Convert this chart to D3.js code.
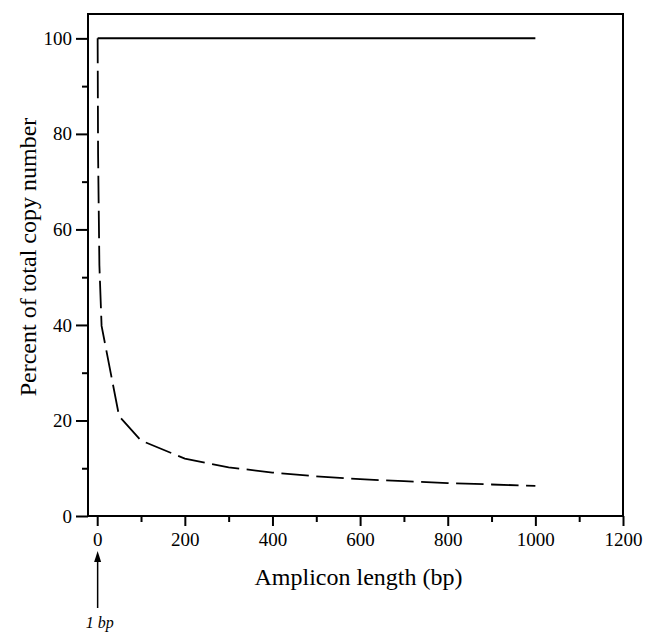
<!DOCTYPE html>
<html>
<head>
<meta charset="utf-8">
<script src="https://cdn.jsdelivr.net/npm/d3@7"></script>
<style>
  html, body { margin: 0; padding: 0; background: #fff; }
  svg { display: block; }
  text { font-family: "Liberation Serif", "Times New Roman", serif; fill: #000; }
</style>
</head>
<body>
<svg id="chart" width="655" height="634"></svg>
<script>
// ---- data ----
const ampliconLength = [1, 2, 5, 10, 50, 100, 200, 300, 400, 500, 600, 700, 800, 900, 1000];
const percentDegraded = [100, 75.8, 52.5, 39.8, 20.9, 15.8, 12.0, 10.2, 9.1, 8.3, 7.7, 7.3, 6.9, 6.6, 6.3];
const solidLength = [1, 1000];
const solidPercent = [100, 100];
const xMajorTicks = [0, 200, 400, 600, 800, 1000, 1200];
const xMinorTicks = [100, 300, 500, 700, 900, 1100];
const yMajorTicks = [0, 20, 40, 60, 80, 100];
const yMinorTicks = [10, 30, 50, 70, 90];
const xTitle = "Amplicon length (bp)";
const yTitle = "Percent of total copy number";
const annotationText = "1 bp";
const annotationAt = 1;

// ---- layout ----
const svg = d3.select("#chart");
const mLeft = 88, mRight = 623, mTop = 14, mBottom = 516;

const x = d3.scaleLinear().domain([-21, 1200]).range([mLeft, mRight]);
const y = d3.scaleLinear().domain([0, 105.1]).range([mBottom, mTop]);

// frame
svg.append("rect")
  .attr("x", mLeft).attr("y", mTop)
  .attr("width", mRight - mLeft).attr("height", mBottom - mTop)
  .attr("fill", "none").attr("stroke", "#000").attr("stroke-width", 2);

// x axis
const xMaj = svg.append("g").attr("transform", `translate(0,${mBottom})`)
  .call(d3.axisBottom(x).tickValues(xMajorTicks).tickSize(10).tickPadding(7).tickFormat(d3.format("d")));
const xMin = svg.append("g").attr("transform", `translate(0,${mBottom})`)
  .call(d3.axisBottom(x).tickValues(xMinorTicks).tickSize(6).tickFormat(""));

// y axis
const yMaj = svg.append("g").attr("transform", `translate(${mLeft},0)`)
  .call(d3.axisLeft(y).tickValues(yMajorTicks).tickSize(12).tickPadding(4).tickFormat(d3.format("d")));
const yMin = svg.append("g").attr("transform", `translate(${mLeft},0)`)
  .call(d3.axisLeft(y).tickValues(yMinorTicks).tickSize(6).tickFormat(""));

[xMaj, xMin, yMaj, yMin].forEach(g => {
  g.select(".domain").remove();
  g.selectAll(".tick line").attr("stroke", "#000").attr("stroke-width", 2);
  g.selectAll(".tick text")
    .attr("font-family", "Liberation Serif, Times New Roman, serif")
    .attr("font-size", 19).attr("fill", "#000");
});

// lines
const line = d3.line().x(d => x(d[0])).y(d => y(d[1]));

svg.append("path")
  .datum(solidLength.map((d, i) => [d, solidPercent[i]]))
  .attr("d", line)
  .attr("fill", "none").attr("stroke", "#000").attr("stroke-width", 2);

svg.append("path")
  .datum(ampliconLength.map((d, i) => [d, percentDegraded[i]]))
  .attr("d", line)
  .attr("fill", "none").attr("stroke", "#000").attr("stroke-width", 1.8)
  .attr("stroke-dasharray", "27.5,7.5")
  .attr("stroke-dashoffset", 2.5);

// axis titles
svg.append("text")
  .attr("x", (mLeft + mRight) / 2 + 3).attr("y", 585)
  .attr("text-anchor", "middle").attr("font-size", 24)
  .text(xTitle);

svg.append("text")
  .attr("transform", `translate(36,257) rotate(-90)`)
  .attr("text-anchor", "middle").attr("font-size", 24)
  .text(yTitle);

// annotation arrow
const ax = x(annotationAt);
svg.append("line")
  .attr("x1", ax).attr("x2", ax).attr("y1", 608).attr("y2", 560)
  .attr("stroke", "#000").attr("stroke-width", 1.5);
svg.append("path")
  .attr("d", `M${ax},551 L${ax - 3.5},562 L${ax + 3.5},562 Z`)
  .attr("fill", "#000");
svg.append("text")
  .attr("x", ax + 2).attr("y", 628)
  .attr("text-anchor", "middle").attr("font-size", 16).attr("font-style", "italic")
  .text(annotationText);
</script>
</body>
</html>
